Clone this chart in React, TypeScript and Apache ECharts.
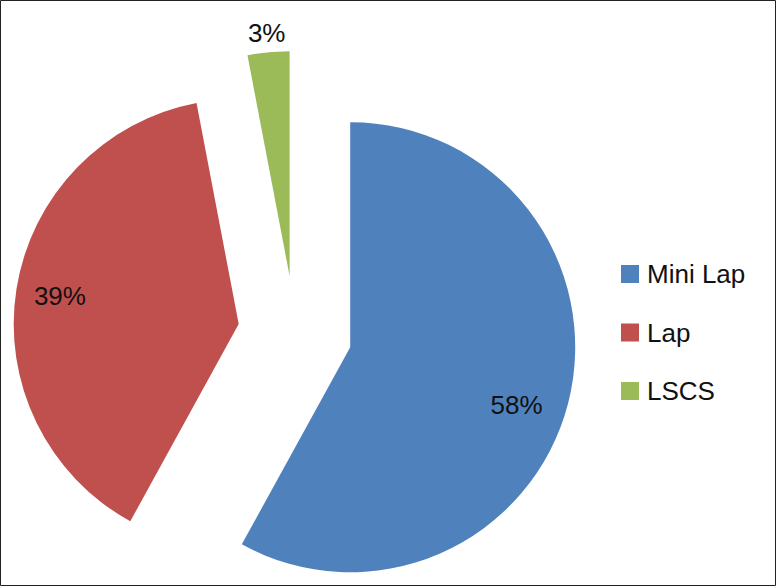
import React, { useEffect, useRef } from "react";
import * as echarts from "echarts";

const categories = ["Mini Lap", "Lap", "LSCS"];
const values = [58, 39, 3];
const colors = ["#4F81BD", "#C0504D", "#9BBB59"];
const labelTexts = ["58%", "39%", "3%"];

const FONT = "'Liberation Sans', Arial, sans-serif";

export default function App() {
  const ref = useRef<HTMLDivElement>(null);
  useEffect(() => {
    if (!ref.current) return;
    const chart = echarts.init(ref.current, null, { renderer: "svg" });
    const center = [295, 333];
    const offset = 57;
    const baseData = categories.map((name, i) => ({
      name,
      value: values[i],
      selected: true,
    }));
    const transparentStyle = { color: "rgba(0,0,0,0)", borderWidth: 0 };
    const labelStyle = {
      show: true,
      position: "inside",
      color: "#111",
      fontSize: 26,
      fontFamily: FONT,
      rotate: 0,
    };
    // rich-text padding nudges the inside labels like Excel's best-fit placement
    const labelPads = [
      [28, 12, 0, 0],
      [0, 6, 0, 0],
      [0, 0, 0, 0],
    ];
    chart.setOption({
      animation: false,
      graphic: [
        {
          type: "rect",
          shape: { x: 0.5, y: 0.5, width: 775, height: 585 },
          style: { fill: "none", stroke: "#222", lineWidth: 1 },
          silent: true,
        },
      ],
      legend: {
        orient: "vertical",
        left: 621,
        top: 261,
        padding: 0,
        icon: "rect",
        itemWidth: 18,
        itemHeight: 18,
        itemGap: 32.5,
        data: categories,
        selectedMode: false,
        textStyle: {
          fontSize: 26,
          fontFamily: FONT,
          color: "#111",
          padding: [0, 0, 0, 3],
        },
      },
      series: [
        {
          type: "pie",
          center,
          radius: [0, 225],
          selectedMode: "multiple",
          selectedOffset: offset,
          startAngle: 90,
          clockwise: true,
          silent: true,
          label: { show: false },
          labelLine: { show: false },
          data: baseData.map((d, i) => ({
            ...d,
            itemStyle: { color: colors[i], borderWidth: 0 },
          })),
        },
        {
          type: "pie",
          center,
          radius: [0, 350],
          selectedMode: "multiple",
          selectedOffset: offset,
          startAngle: 90,
          clockwise: true,
          silent: true,
          avoidLabelOverlap: false,
          labelLine: { show: false },
          itemStyle: transparentStyle,
          data: baseData.map((d, i) => ({
            ...d,
            label: {
              ...labelStyle,
              show: i < 2,
              formatter: "{t|" + labelTexts[i] + "}",
              rich: {
                t: {
                  fontSize: 26,
                  fontFamily: FONT,
                  color: "#111",
                  padding: labelPads[i],
                },
              },
            },
          })),
        },
        {
          type: "pie",
          center,
          radius: [0, 482],
          selectedMode: "multiple",
          selectedOffset: offset,
          startAngle: 90,
          clockwise: true,
          silent: true,
          avoidLabelOverlap: false,
          labelLine: { show: false },
          itemStyle: transparentStyle,
          data: baseData.map((d, i) => ({
            ...d,
            label: { ...labelStyle, show: i === 2, formatter: labelTexts[i] },
          })),
        },
      ],
    });
    return () => chart.dispose();
  }, []);
  return (
    <div
      ref={ref}
      style={{
        position: "fixed",
        left: 0,
        top: 0,
        width: 776,
        height: 586,
        background: "#fff",
      }}
    />
  );
}
